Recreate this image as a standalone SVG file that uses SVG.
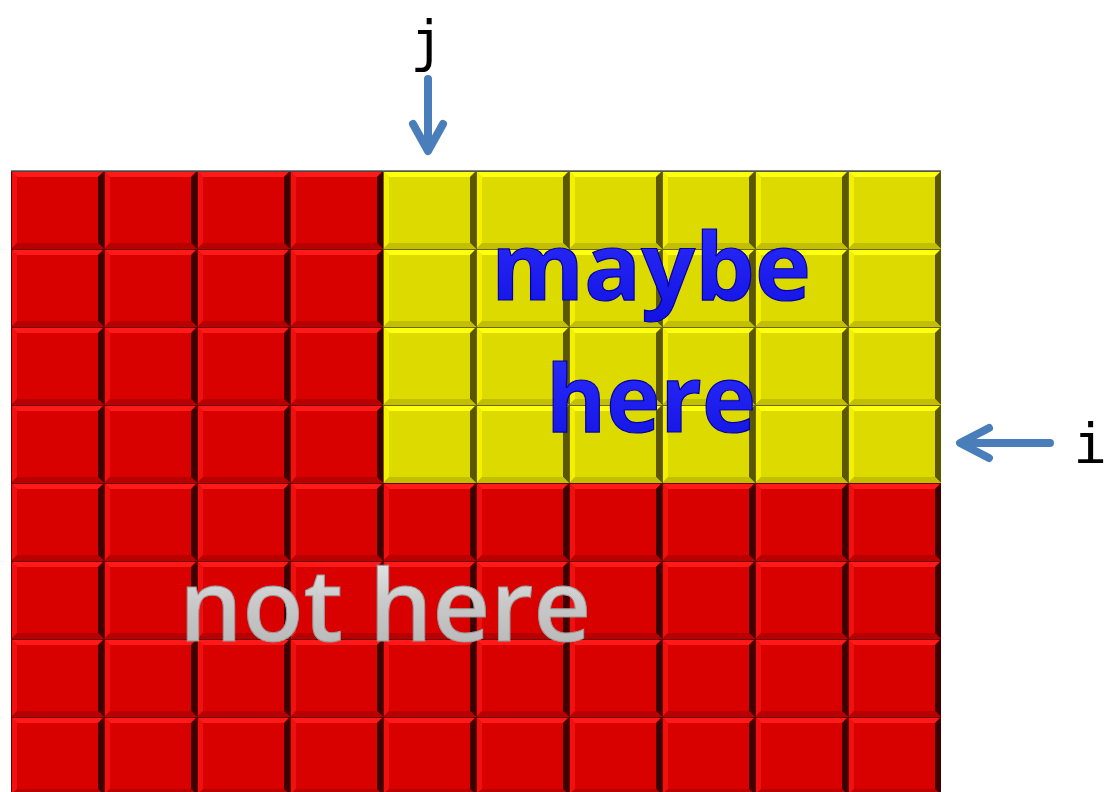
<svg xmlns="http://www.w3.org/2000/svg" width="1105" height="792" viewBox="0 0 1105 792">
<style>
.arrow{fill:none;stroke:#4A7EBB;stroke-width:8;stroke-linecap:round;stroke-linejoin:round}
.idx{font-family:"DejaVu Sans Mono","Liberation Mono",monospace;font-size:56px;fill:#000}
.maybe{font-family:"Open Sans","Noto Sans",sans-serif;font-weight:700;font-size:94px;fill:url(#blue);stroke:#0000A8;stroke-width:1.2;text-anchor:middle}
.not{font-family:"Open Sans","Noto Sans",sans-serif;font-weight:600;font-size:100px;fill:url(#silver);stroke:#9A9A9A;stroke-width:1;text-anchor:middle}
</style>
<defs>
<linearGradient id="silver" x1="0" y1="0" x2="0" y2="1">
<stop offset="0" stop-color="#F4F4F4"/>
<stop offset="0.5" stop-color="#C9C9C9"/>
<stop offset="1" stop-color="#B0B0B0"/>
</linearGradient>
<linearGradient id="blue" x1="0" y1="0" x2="0" y2="1">
<stop offset="0" stop-color="#3030FF"/>
<stop offset="1" stop-color="#1010E0"/>
</linearGradient>
<pattern id="redcell" patternUnits="userSpaceOnUse" x="11" y="171" width="93" height="78">
<rect width="93" height="78" fill="#D90000"/>
<polygon points="0,0 93,0 87,6 6,6" fill="#FF1A1A"/>
<polygon points="0,0 6,6 6,72 0,78" fill="#F01010"/>
<polygon points="93,0 93,78 87,72 87,6" fill="#3E0000"/>
<polygon points="0,78 6,72 87,72 93,78" fill="#B80000"/>
<rect width="93" height="1" fill="#700000"/>
<rect width="1" height="78" fill="#700000"/>
</pattern>
<pattern id="yelcell" patternUnits="userSpaceOnUse" x="11" y="171" width="93" height="78">
<rect width="93" height="78" fill="#DDDA00"/>
<polygon points="0,0 93,0 87,6 6,6" fill="#FFFF10"/>
<polygon points="0,0 6,6 6,72 0,78" fill="#F4F000"/>
<polygon points="93,0 93,78 87,72 87,6" fill="#5A5700"/>
<polygon points="0,78 6,72 87,72 93,78" fill="#C2BF00"/>
<rect width="93" height="1" fill="#6A6800"/>
<rect width="1" height="78" fill="#6A6800"/>
</pattern>
</defs>
<g id="grid">
<rect x="11" y="171" width="930" height="630" fill="url(#redcell)"/>
<rect x="383" y="171" width="558" height="312" fill="url(#yelcell)"/>
<line x1="11" y1="171" x2="941" y2="171" stroke="#555" stroke-width="1.5"/>
</g>
<g id="label-maybe">
<text class="maybe" x="651" y="300" textLength="320" lengthAdjust="spacingAndGlyphs">maybe</text>
<text class="maybe" x="651" y="432" textLength="210" lengthAdjust="spacingAndGlyphs">here</text>
</g>
<g id="label-not">
<text class="not" x="385" y="641">not here</text>
</g>
<g id="label-j"><text class="idx" x="427" y="60" text-anchor="middle">j</text></g>
<g id="label-i"><text class="idx" x="1090" y="463" text-anchor="middle">i</text></g>
<g id="connectors">
<path class="arrow" d="M428,79 L428,150 M413,124 L428,151 L443,124"/>
<path class="arrow" d="M1050,443 L961,443 M989,428 L960,443 L989,458"/>
</g>
</svg>
